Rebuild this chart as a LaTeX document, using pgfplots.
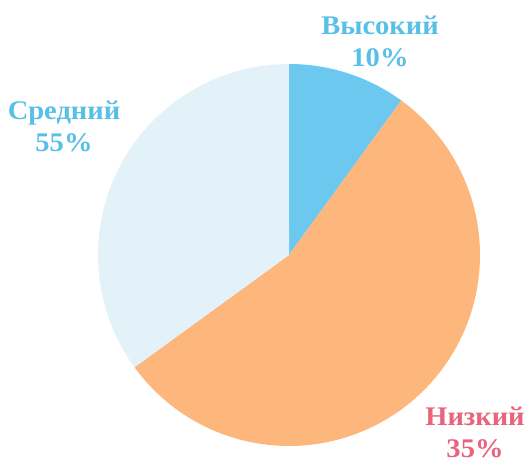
\documentclass[border=0pt]{standalone}
\usepackage{pgfplots}
\pgfplotsset{compat=1.18}
\usepackage{pgfplotstable}
\usepackage{fontspec}
\setmainfont{Liberation Serif}

\definecolor{cHigh}{HTML}{6CC8EE}
\definecolor{cLow}{HTML}{FDB67C}
\definecolor{cMid}{HTML}{E3F2F9}
\definecolor{tBlue}{HTML}{58C0E6}
\definecolor{tRed}{HTML}{E8637B}

% slice shares in percent, clockwise from 12 o'clock
\pgfplotstableread{
slice value
1 10
2 55
3 35
}\piedata

\begin{document}
\begin{tikzpicture}
\pgfplotstablegetelem{0}{value}\of\piedata \let\vA\pgfplotsretval
\pgfplotstablegetelem{1}{value}\of\piedata \let\vB\pgfplotsretval
\pgfplotstablegetelem{2}{value}\of\piedata \let\vC\pgfplotsretval
\pgfmathsetmacro\aA{3.6*\vA}
\pgfmathsetmacro\aB{\aA+3.6*\vB}
\pgfmathsetmacro\aC{\aB+3.6*\vC}
\def\cx{289}\def\cy{209}\def\r{191}
\tikzset{lbl/.style={align=center, inner sep=0, xscale=1.06, transform shape,
    font=\fontsize{27}{32}\selectfont\bfseries}}
\begin{axis}[
    width=526bp, height=464bp,
    scale only axis,
    xmin=0, xmax=526, ymin=0, ymax=464,
    hide axis, clip=false,
]
\addplot[fill=cHigh, draw=none, domain=0:\aA, samples=40]
    ({\cx+\r*sin(x)}, {\cy+\r*cos(x)}) -- (\cx,\cy) -- cycle;
\addplot[fill=cLow, draw=none, domain=\aA:\aB, samples=120]
    ({\cx+\r*sin(x)}, {\cy+\r*cos(x)}) -- (\cx,\cy) -- cycle;
\addplot[fill=cMid, draw=none, domain=\aB:\aC, samples=80]
    ({\cx+\r*sin(x)}, {\cy+\r*cos(x)}) -- (\cx,\cy) -- cycle;

\node[lbl, text=tBlue] at (axis cs:380,423) {Высокий\\10\%};
\node[lbl, text=tBlue] at (axis cs:64,338) {Средний\\55\%};
\node[lbl, text=tRed] at (axis cs:475,32) {Низкий\\35\%};
\end{axis}
\pgfresetboundingbox
\path[use as bounding box] (0,0) rectangle (526bp,464bp);
\end{tikzpicture}
\end{document}
